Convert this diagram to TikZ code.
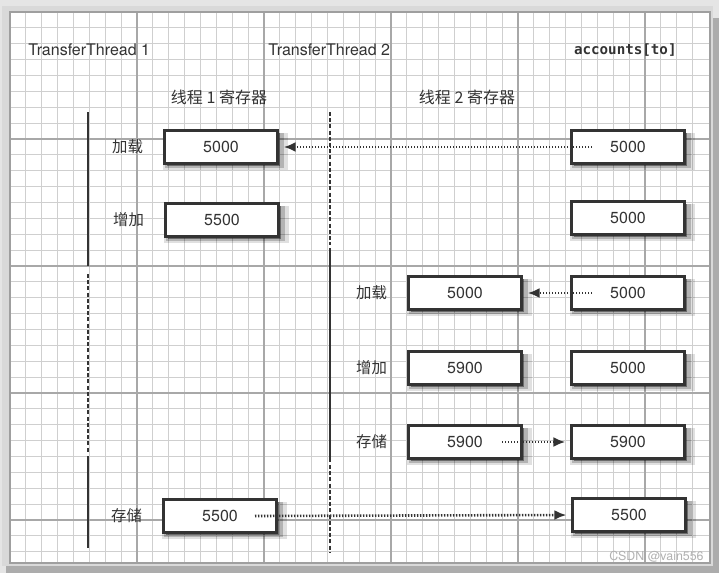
\documentclass[tikz,border=0pt]{standalone}
\usepackage{fontspec}
\setmainfont{TeX Gyre Heros}
\newfontfamily\cjk{Noto Sans CJK SC}
\newfontfamily\codefont{DejaVu Sans Mono}
\usetikzlibrary{arrows.meta,positioning,shadows}
\definecolor{ink}{HTML}{333333}
\definecolor{gridminor}{HTML}{CFCFCF}
\definecolor{gridmajor}{HTML}{A8A8A8}
\tikzset{
    reg/.style={
        draw=ink,
        line width=1.1pt,
        fill=white,
        minimum width=56.5pt,
        minimum height=16.5pt,
        inner sep=0pt,
        font=\fontsize{8}{9.6}\selectfont,
        text=ink,
        drop shadow={shadow xshift=2pt, shadow yshift=-2pt,
            shadow scale=1.1, opacity=.12, fill=black},
        drop shadow={shadow xshift=1.6pt, shadow yshift=-1.6pt,
            shadow scale=1.05, opacity=.2, fill=black},
        drop shadow={shadow xshift=1pt, shadow yshift=-1pt,
            opacity=.4, fill=black}
    },
    op/.style={
        inner sep=0pt,
        font=\cjk\fontsize{7.7}{9}\selectfont,
        text=ink
    },
    head/.style={
        inner sep=0pt,
        font=\fontsize{8}{9.6}\selectfont,
        text=ink
    },
    timeline/.style={
        draw=ink,
        line width=1.1pt
    },
    idle/.style={
        timeline,
        dash pattern=on 2pt off 1.1pt
    },
    flow/.style={
        draw=ink,
        line width=1.3pt,
        dash pattern=on .7pt off .8pt,
        -{Latex[length=6pt,width=5pt]},
        shorten >=2.5pt
    }
}

\begin{document}
\begin{tikzpicture}[x=0.5pt, y=-0.5pt, node distance=10pt]

\useasboundingbox (0,0) rectangle (719,573);

% paper and grid
\fill[gray!20] (0,0) rectangle (719,573);
\fill[gray!65] (6,18) rectangle (719,573);
\fill[gray!30] (2,6) rectangle (713,566);
\fill[white] (10,12) rectangle (710,563);
\foreach \i in {1,...,43}
    \draw[gridminor, line width=.5pt] (10+\i*15.875,12) -- (10+\i*15.875,563);
\foreach \j in {1,...,34}
    \draw[gridminor, line width=.5pt] (10,12+\j*15.875) -- (710,12+\j*15.875);
\foreach \i in {1,...,5}
    \draw[gridmajor, line width=.6pt] (10+\i*127,12) -- (10+\i*127,563);
\foreach \j in {1,...,4}
    \draw[gridmajor, line width=.6pt] (10,12+\j*127) -- (710,12+\j*127);
\draw[gray!75, line width=.6pt] (10,12) rectangle (710,563);

% headings
\node[head, anchor=west] (th1) at (28,50) {TransferThread 1};
\node[head, anchor=west] (th2) at (268,50) {TransferThread 2};
\node[head, anchor=east, font=\codefont\bfseries\fontsize{7.1}{8}\selectfont]
    (acct) at (677,50) {accounts[to]};
\node[op, font=\cjk\fontsize{8}{9.6}\selectfont] (reg1) at (219,97) {线程 1 寄存器};
\node[op, font=\cjk\fontsize{8}{9.6}\selectfont] (reg2) at (467,97) {线程 2 寄存器};

% time lines
\coordinate (t1a) at (88,112);
\coordinate (t1b) at (88,266);
\coordinate (t1c) at (88,274);
\coordinate (t1d) at (88,452);
\coordinate (t1e) at (88,456);
\coordinate (t1f) at (88,548);
\coordinate (t2a) at (330,112);
\coordinate (t2b) at (330,245);
\coordinate (t2c) at (330,248);
\coordinate (t2d) at (330,462);
\coordinate (t2e) at (330,465);
\coordinate (t2f) at (330,553);
\draw[timeline] (t1a) -- (t1b);
\draw[idle] (t1c) -- (t1d);
\draw[timeline] (t1e) -- (t1f);
\draw[idle] (t2a) -- (t2b);
\draw[timeline] (t2c) -- (t2d);
\draw[idle] (t2e) -- (t2f);

% thread 1 registers
\node[reg] (load1) at (221,147) {5000};
\node[reg] (add1) at (222,220) {5500};
\node[reg] (store1) at (220,516) {5500};
\node[op, left=of load1] {加载};
\node[op, left=of add1] {增加};
\node[op, left=of store1] {存储};

% thread 2 registers
\node[reg] (load2) at (465,293) {5000};
\node[reg] (add2) at (465,368) {5900};
\node[reg] (store2) at (465,442) {5900};
\node[op, left=of load2] {加载};
\node[op, left=of add2] {增加};
\node[op, left=of store2] {存储};

% accounts[to]
\node[reg] (acc1) at (628,147) {5000};
\node[reg] (acc2) at (628,218) {5000};
\node[reg] (acc3) at (628,293) {5000};
\node[reg] (acc4) at (628,368) {5000};
\node[reg] (acc5) at (628,442) {5900};
\node[reg] (acc6) at (629,515) {5500};

\draw[flow] ([xshift=-18pt]acc1.center) -- (load1.east);
\draw[flow] ([xshift=-18pt]acc3.center) -- (load2.east);
\draw[flow] ([xshift=18.5pt]store2.center) -- (acc5.west);
\draw[flow] ([xshift=17.5pt]store1.center) -- (acc6.west);

\node[head, anchor=east, text=gray!60, font=\fontsize{6.2}{7}\selectfont]
    (mark) at (704,557) {CSDN @vain556};

\end{tikzpicture}
\end{document}
